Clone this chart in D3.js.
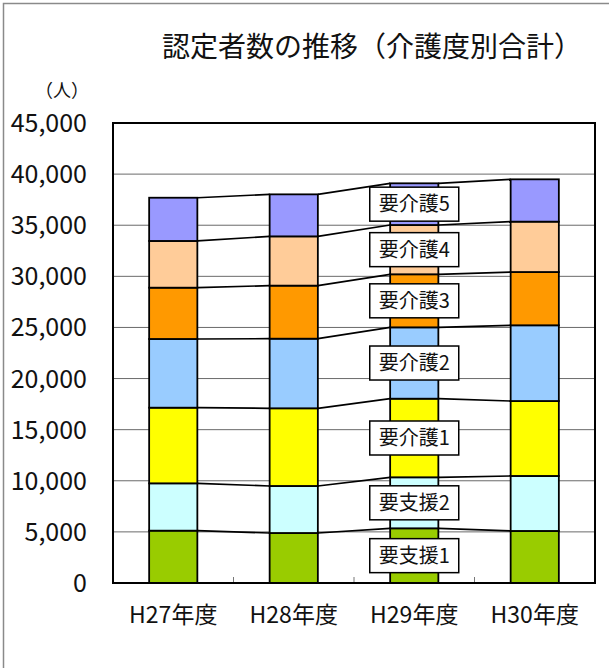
<!DOCTYPE html>
<html>
<head>
<meta charset="utf-8">
<script src="https://cdn.jsdelivr.net/npm/d3@7"></script>
<style>
  html, body { margin: 0; padding: 0; background: #fff; }
  svg { display: block; }
  text { font-family: "Noto Sans CJK JP", "Noto Sans", sans-serif; fill: #111; }
</style>
</head>
<body>
<svg id="chart" width="609" height="668"></svg>
<script>
// Fiscal years (categories)
const years = ["H27年度", "H28年度", "H29年度", "H30年度"];

// Care levels, stacked bottom to top
const levels = ["要支援1", "要支援2", "要介護1", "要介護2", "要介護3", "要介護4", "要介護5"];
const levelColors = ["#99CC00", "#CCFFFF", "#FFFF00", "#99CCFF", "#FF9900", "#FFCC99", "#9999FF"];

// Certified persons per level, one value per fiscal year
const shien1 = [5120, 4890, 5350, 5090];
const shien2 = [4630, 4600, 4990, 5380];
const kaigo1 = [7400, 7600, 7690, 7330];
const kaigo2 = [6720, 6810, 6980, 7410];
const kaigo3 = [5020, 5190, 5190, 5210];
const kaigo4 = [4570, 4820, 4820, 4930];
const kaigo5 = [4230, 4110, 4080, 4140];
const seriesValues = [shien1, shien2, kaigo1, kaigo2, kaigo3, kaigo4, kaigo5];

// Y axis ticks
const yTicks = [0, 5000, 10000, 15000, 20000, 25000, 30000, 35000, 40000, 45000];

const title = "認定者数の推移（介護度別合計）";
const unitLabel = "（人）";
// Year whose bar carries the level captions
const captionYear = "H29年度";

const svg = d3.select("#chart");

// Outer frame
svg.append("path")
  .attr("d", "M3.5,668 V3.5 H609")
  .attr("fill", "none")
  .attr("stroke", "#8a8a8a")
  .attr("stroke-width", 1.5);

const plot = { left: 113, right: 595, top: 123, bottom: 583 };

const rows = years.map((y, i) => {
  const r = { year: y };
  levels.forEach((lv, k) => { r[lv] = seriesValues[k][i]; });
  return r;
});
const stacked = d3.stack().keys(levels)(rows);

const x = d3.scaleBand()
  .domain(years)
  .range([plot.left, plot.right])
  .paddingInner(0.6)
  .paddingOuter(0.3);

const y = d3.scaleLinear()
  .domain([0, 45000])
  .range([plot.bottom, plot.top]);

// Gridlines
svg.append("g")
  .selectAll("line")
  .data(yTicks.filter(t => t > 0 && t < 45000))
  .join("line")
  .attr("x1", plot.left).attr("x2", plot.right)
  .attr("y1", d => y(d)).attr("y2", d => y(d))
  .attr("stroke", "#6a6a6a")
  .attr("stroke-width", 1);

// Small inward ticks between categories on the bottom axis
const gap = x.step() - x.bandwidth();
svg.append("g")
  .selectAll("line")
  .data(years.slice(1))
  .join("line")
  .attr("x1", d => x(d) - gap / 2)
  .attr("x2", d => x(d) - gap / 2)
  .attr("y1", plot.bottom)
  .attr("y2", plot.bottom - 6)
  .attr("stroke", "#777")
  .attr("stroke-width", 1);

// Series lines joining the tops of matching segments
const lineG = svg.append("g");
stacked.forEach(layer => {
  for (let i = 0; i < years.length - 1; i++) {
    lineG.append("line")
      .attr("x1", x(years[i]) + x.bandwidth())
      .attr("y1", y(layer[i][1]))
      .attr("x2", x(years[i + 1]))
      .attr("y2", y(layer[i + 1][1]))
      .attr("stroke", "#000")
      .attr("stroke-width", 1.7);
  }
});

// Stacked bars
svg.append("g")
  .selectAll("g")
  .data(stacked)
  .join("g")
  .attr("fill", (d, k) => levelColors[k])
  .selectAll("rect")
  .data(d => d)
  .join("rect")
  .attr("x", d => x(d.data.year))
  .attr("y", d => y(d[1]))
  .attr("width", x.bandwidth())
  .attr("height", d => y(d[0]) - y(d[1]))
  .attr("stroke", "#000")
  .attr("stroke-width", 1.8);

// Plot border
svg.append("rect")
  .attr("x", plot.left).attr("y", plot.top)
  .attr("width", plot.right - plot.left)
  .attr("height", plot.bottom - plot.top)
  .attr("fill", "none")
  .attr("stroke", "#000")
  .attr("stroke-width", 2);

// Level captions on the chosen year's bar
const ci = years.indexOf(captionYear);
const capG = svg.append("g");
stacked.forEach((layer, k) => {
  const cx = x(captionYear) + x.bandwidth() / 2;
  const cy = y((layer[ci][0] + layer[ci][1]) / 2);
  capG.append("rect")
    .attr("x", cx - 44.5).attr("y", cy - 17)
    .attr("width", 89).attr("height", 34)
    .attr("fill", "#fff")
    .attr("stroke", "#000")
    .attr("stroke-width", 1.5);
  capG.append("text")
    .attr("x", cx).attr("y", cy)
    .attr("dy", "0.36em")
    .attr("text-anchor", "middle")
    .attr("font-size", 20)
    .text(levels[k]);
});

// Y axis labels
svg.append("g")
  .selectAll("text")
  .data(yTicks)
  .join("text")
  .attr("x", 87)
  .attr("y", d => y(d))
  .attr("dy", "0.36em")
  .attr("text-anchor", "end")
  .attr("font-size", 25)
  .text(d => d3.format(",")(d));

// X axis labels
svg.append("g")
  .selectAll("text")
  .data(years)
  .join("text")
  .attr("x", d => x(d) + x.bandwidth() / 2)
  .attr("y", 623)
  .attr("text-anchor", "middle")
  .attr("font-size", 23)
  .text(d => d);

// Unit label
svg.append("text")
  .attr("x", 62).attr("y", 97)
  .attr("text-anchor", "middle")
  .attr("font-size", 18)
  .text(unitLabel);

// Title
svg.append("text")
  .attr("x", 372).attr("y", 57)
  .attr("text-anchor", "middle")
  .attr("font-size", 28)
  .text(title);
</script>
</body>
</html>
